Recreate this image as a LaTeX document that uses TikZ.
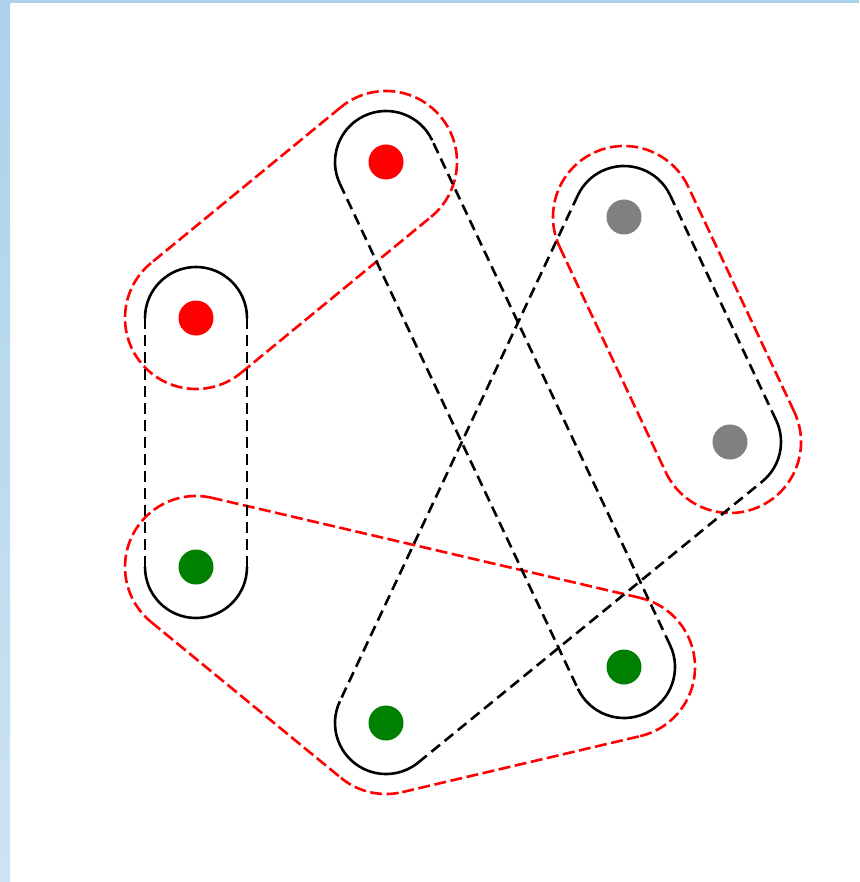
\documentclass[tikz,border=0pt]{standalone}
\usetikzlibrary{calc}
\definecolor{dotgreen}{RGB}{0,128,0}
\definecolor{dotgray}{RGB}{128,128,128}
\definecolor{frametop}{RGB}{172,210,234}
\definecolor{framebot}{RGB}{205,227,242}
\tikzset{
  dot/.style={circle,inner sep=0pt,minimum size=35pt},
  blackarc/.style={line width=2.6pt,black},
  blackedge/.style={line width=2.6pt,black,dash pattern=on 11pt off 6pt},
  redline/.style={line width=2.6pt,red,dash pattern=on 12pt off 4.5pt},
}
% arc at #2 between edges #1->#2 and #2->#3, radius #4, style #5
\newcommand\hullArc[5]{%
  \draw[#5] let \p1=(#1), \p2=(#2), \p3=(#3),
    \n1={atan2(\y2-\y1,\x2-\x1)}, \n2={atan2(\y3-\y2,\x3-\x2)},
    \n3={mod(\n2-\n1+720,360)} in
    (\p2) ++(\n1-90:#4) arc[start angle=\n1-90, delta angle=\n3, radius=#4];}
% offset edge #1->#2 at distance #3, style #4
\newcommand\hullEdge[4]{%
  \draw[#4] ($(#1)!#3!-90:(#2)$) -- ($(#2)!#3!90:(#1)$);}
\newcommand\stadiumHull[5]{%
  \hullEdge{#1}{#2}{#3}{#4}\hullEdge{#2}{#1}{#3}{#4}%
  \hullArc{#1}{#2}{#1}{#3}{#5}\hullArc{#2}{#1}{#2}{#3}{#5}}
\newcommand\triHull[6]{%
  \hullEdge{#1}{#2}{#4}{#5}\hullEdge{#2}{#3}{#4}{#5}\hullEdge{#3}{#1}{#4}{#5}%
  \hullArc{#1}{#2}{#3}{#4}{#6}\hullArc{#2}{#3}{#1}{#4}{#6}\hullArc{#3}{#1}{#2}{#4}{#6}}
\begin{document}
\begin{tikzpicture}[x=1pt,y=-1pt]
\useasboundingbox (0,0) rectangle (859,882);
% window frame
\fill[frametop] (0,0) rectangle (859,3);
\shade[top color=frametop,bottom color=framebot] (0,0) rectangle (10,882);
% points
\node[dot,fill=red] (R1) at (386,162) {};
\node[dot,fill=red] (R2) at (196,318) {};
\node[dot,fill=dotgray] (Y1) at (624,217) {};
\node[dot,fill=dotgray] (Y2) at (730,442) {};
\node[dot,fill=dotgreen] (G1) at (196,567) {};
\node[dot,fill=dotgreen] (G2) at (386,723) {};
\node[dot,fill=dotgreen] (G3) at (624,667) {};
% red hulls
\stadiumHull{R1}{R2}{71pt}{redline}{redline}
\stadiumHull{Y1}{Y2}{71pt}{redline}{redline}
\triHull{G1}{G2}{G3}{71pt}{redline}{redline}
% black hulls
\stadiumHull{R2}{G1}{51pt}{blackedge}{blackarc}
\stadiumHull{R1}{G3}{51pt}{blackedge}{blackarc}
\triHull{G2}{Y2}{Y1}{51pt}{blackedge}{blackarc}
\end{tikzpicture}
\end{document}
